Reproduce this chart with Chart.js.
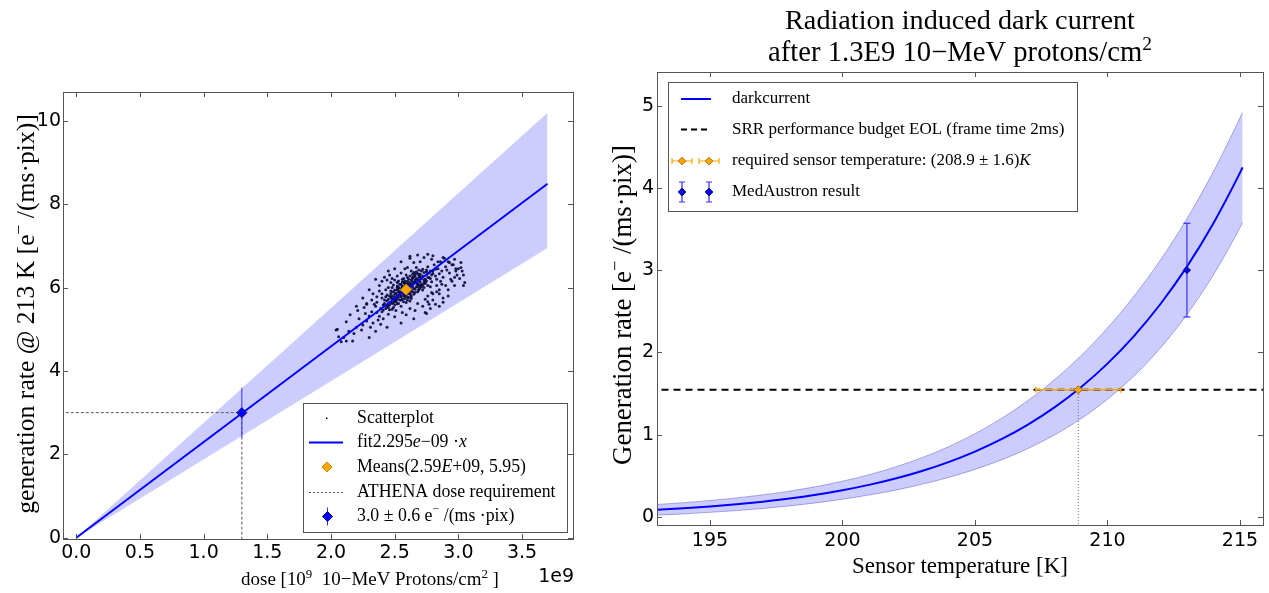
<!DOCTYPE html>
<html><head><meta charset="utf-8">
<script src="https://cdn.jsdelivr.net/npm/chart.js@4/dist/chart.umd.min.js"></script>
<style>
html,body{margin:0;padding:0;background:#fff;width:1269px;height:593px;overflow:hidden}
#cl{position:absolute;left:0;top:0}
#cr{position:absolute;left:600px;top:0}
</style></head><body>
<canvas id="cl" width="600" height="593"></canvas>
<canvas id="cr" width="669" height="593"></canvas>
<script>
// ---------- LEFT PLOT DATA (dose in 1e9 protons/cm2) ----------
const fitDose = [0, 3.7];
const fitRate = [0, 8.49];
const bandUpperRate = [0, 10.19];
const bandLowerRate = [0, 6.95];
const scatterDose = [2.59,2.62,2.55,2.68,2.50,2.47,2.71,2.64,2.58,2.53,2.66,2.44,2.75,2.61,2.57,2.69,2.49,2.52,2.73,2.60,2.56,2.63,2.45,2.78,2.67,2.54,2.70,2.48,2.80,2.59,2.42,2.65,2.51,2.76,2.62,2.58,2.46,2.72,2.55,2.68,2.40,2.82,2.60,2.64,2.52,2.74,2.57,2.66,2.49,2.77,2.43,2.61,2.70,2.53,2.84,2.58,2.45,2.69,2.63,2.56,2.38,2.79,2.50,2.67,2.60,2.73,2.47,2.55,2.85,2.62,2.41,2.71,2.54,2.65,2.48,2.76,2.59,2.68,2.51,2.81,2.44,2.63,2.57,2.72,2.36,2.87,2.53,2.66,2.49,2.78,2.46,2.60,2.70,2.55,2.83,2.39,2.64,2.52,2.75,2.58,
2.30,2.33,2.35,2.28,2.32,2.25,2.37,2.34,2.27,2.31,2.90,2.92,2.88,2.95,2.89,2.93,2.86,2.91,2.97,2.94,2.40,2.45,2.50,2.55,2.60,2.65,2.70,2.43,2.58,2.52,2.50,2.56,2.62,2.68,2.74,2.80,2.85,2.66,2.77,2.59,2.22,2.24,2.20,2.26,2.18,2.98,3.00,2.96,3.02,2.99,2.36,2.41,2.84,2.79,2.76,2.73,2.47,2.39,2.87,2.83,
2.05,2.10,2.12,2.08,2.15,2.12,2.14,2.17,2.06,2.04,3.04,3.02,3.05,3.04,2.93,2.98,3.03,2.88,2.80,2.76,2.62,2.68,2.55,2.50,2.46,2.62,2.44,2.55,2.65,2.75,2.85,2.92,2.35,2.30,2.28,2.21,2.88,2.97,3.01,2.40,
2.25,2.30,2.33,2.38,2.28,2.35,2.42,2.45,2.20,2.32,2.85,2.90,2.88,2.82,2.95,2.78,2.74,2.92,2.97,2.80,2.38,2.44,2.48,2.36,2.40,2.86,2.83,2.79,2.76,2.72,
2.58,2.61,2.54,2.66,2.51,2.69,2.48,2.73,2.56,2.63,2.60,2.57,2.65,2.52,2.70,2.45,2.75,2.59,2.62,2.55,2.67,2.50,2.72,2.47,2.64,2.53,2.68,2.44,2.77,2.61,2.56,2.66,2.49,2.71,2.58,2.63,2.42,2.79,2.54,2.69,2.60,2.52,2.74,2.46,2.65,2.57,2.70,2.50,2.62,2.55,2.68,2.48,2.76,2.59,2.64,2.53,2.71,2.43,2.80,2.58,2.61,2.56,2.67,2.51,2.73,2.47,2.63,2.54,2.69,2.60,2.57,2.66,2.49,2.74,2.52,2.62,2.45,2.78,2.59,2.65,2.55,2.70,2.50,2.64,2.58,2.41,2.82,2.53,2.68,2.61,2.56,2.72,2.48,2.63,2.60,2.66,2.52,2.75,2.57,2.69];
const scatterRate = [5.95,6.05,5.82,6.18,5.78,5.65,6.08,6.22,5.74,6.01,5.96,5.55,6.31,5.88,6.12,6.25,5.90,5.61,6.12,6.15,5.93,5.79,5.72,6.22,6.38,5.70,5.99,5.48,6.40,6.30,5.62,6.10,5.87,6.05,5.68,6.04,5.80,6.44,5.55,5.90,5.42,6.28,5.85,6.32,5.95,6.20,5.66,6.14,5.74,6.35,5.50,6.00,6.32,5.77,6.45,5.86,5.36,6.06,5.95,6.20,5.31,6.14,5.58,6.48,5.77,6.00,5.86,6.08,6.33,6.12,5.58,6.22,5.88,5.84,5.62,6.50,5.64,6.02,5.45,6.55,5.68,6.40,5.96,5.94,5.40,6.40,6.16,6.28,5.52,6.02,5.47,6.24,6.14,5.70,6.20,5.50,6.02,5.72,6.42,5.80,
5.32,5.15,5.55,5.20,5.42,5.10,5.22,5.60,5.38,5.05,6.50,6.62,6.25,6.55,6.70,6.35,6.62,6.42,6.68,6.20,5.85,6.00,6.18,6.35,6.48,6.60,6.62,5.95,6.45,6.28,5.30,5.40,5.50,5.62,5.72,5.85,5.95,5.45,5.60,5.35,5.25,4.98,5.05,5.52,4.90,6.45,6.45,6.55,6.60,6.30,5.78,5.25,6.62,6.68,5.80,6.72,6.12,5.12,6.08,6.05,
5.00,4.80,5.18,4.70,5.35,4.72,4.95,4.72,4.82,4.98,6.30,6.48,6.12,6.05,6.60,6.40,6.40,6.72,6.76,6.80,6.75,6.78,6.62,6.45,6.30,6.70,5.05,5.15,5.25,5.38,5.55,5.80,4.95,4.80,5.62,5.45,5.75,6.05,6.22,6.15,
5.75,5.95,5.85,6.05,5.60,6.20,6.25,6.40,5.55,5.70,5.85,6.05,5.65,5.60,6.15,5.50,5.40,5.95,6.25,5.70,5.92,6.18,6.22,5.65,5.75,6.15,5.90,5.88,5.66,5.55,
5.88,6.08,5.90,6.12,5.66,6.30,5.72,6.18,6.02,5.92,6.10,5.80,6.26,5.82,6.05,5.60,6.38,6.06,5.84,5.98,6.02,5.94,6.28,5.76,6.14,5.62,6.34,5.82,6.24,6.20,5.72,5.88,6.06,6.40,6.16,5.74,5.70,6.30,6.08,5.96,5.92,6.12,6.10,5.58,6.36,6.22,6.20,5.68,6.28,5.86,6.10,6.00,6.24,5.82,5.90,5.98,6.02,5.78,6.34,6.12,5.76,6.04,6.22,5.70,6.36,5.92,6.08,5.84,5.94,6.02,5.90,6.18,5.64,6.14,6.04,5.86,5.52,6.40,5.96,5.98,5.78,6.26,5.84,6.24,6.10,5.46,6.44,5.90,6.08,5.94,6.14,6.06,5.80,6.18,5.70,6.32,6.00,6.16,5.86,6.42];
const meansDose = 2.59, meansRate = 5.95;
const athenaDose = 1.3, athenaRate = 3.0, athenaErr = 0.6;
const leftXTicks = [0, 0.5, 1.0, 1.5, 2.0, 2.5, 3.0, 3.5];
const leftYTicks = [0, 2, 4, 6, 8, 10];

// ---------- RIGHT PLOT DATA ----------
const temps       = [193,194,195,196,197,198,199,200,201,202,203,204,205,206,207,208,209,210,211,212,213,214,215,215.1];
const darkcurrent = [0.085,0.103,0.126,0.152,0.184,0.222,0.268,0.323,0.388,0.465,0.557,0.665,0.793,0.944,1.122,1.331,1.576,1.863,2.198,2.588,3.043,3.571,4.183,4.25];
const dcUpper     = [0.150,0.171,0.198,0.229,0.267,0.312,0.367,0.433,0.512,0.606,0.719,0.852,1.010,1.196,1.414,1.667,1.960,2.297,2.683,3.123,3.626,4.199,4.851,4.92];
const dcLower     = [0.020,0.035,0.054,0.075,0.101,0.132,0.169,0.213,0.264,0.324,0.395,0.478,0.576,0.692,0.830,0.995,1.192,1.429,1.713,2.053,2.460,2.943,3.515,3.58];
const budgetRate = 1.545;
const reqTemp = 208.9, reqTempErr = 1.6;
const medTemp = 213, medRate = 3.0, medErr = 0.57;
const rightXTicks = [195, 200, 205, 210, 215];
const rightYTicks = [0, 1, 2, 3, 4, 5];

// ---------- helpers ----------
const SERIF = '"Liberation Serif", "DejaVu Serif", serif';
function segFont(s, size){ return (s==='i'?'italic ':'') + (s==='s'? size*0.68 : size) + 'px ' + SERIF; }
function richWidth(ctx, segs, size){ let w=0; for(const [t,s] of segs){ ctx.font=segFont(s,size); w+=ctx.measureText(t).width; } return w; }
function fitSize(ctx, segs, target){ return 100*target/richWidth(ctx, segs, 100); }
function drawRich(ctx, segs, x, y, size, align){
  const w = richWidth(ctx, segs, size);
  let cx = align==='center' ? x-w/2 : (align==='right' ? x-w : x);
  for(const [t,s] of segs){
    ctx.font = segFont(s,size);
    ctx.fillText(t, cx, s==='s' ? y-size*0.38 : y);
    cx += ctx.measureText(t).width;
  }
}
function P(xs, ys){ return xs.map((v,i)=>({x:v, y:ys[i]})); }

function axis(min, max, ticksArr, fmt, fit, pad){
  return {type:'linear', min, max,
    grid:{display:false, drawTicks:false}, border:{display:false},
    ticks:{autoSkip:false, maxRotation:0, minRotation:0, includeBounds:false, padding:pad,
           color:'#000', font:{family:'DejaVu Sans', size:19}, callback:fmt},
    afterBuildTicks:s=>{ s.ticks = ticksArr.map(v=>({value:v})); },
    afterFit:fit};
}

const framePlugin = {id:'frame', afterDatasetsDraw(chart){
  const {ctx, chartArea:a, scales:{x,y}} = chart;
  ctx.save(); ctx.strokeStyle='#555'; ctx.lineWidth=1;
  ctx.beginPath();
  x.ticks.forEach(t=>{ const p=Math.round(x.getPixelForValue(t.value))+0.5;
    ctx.moveTo(p,a.bottom); ctx.lineTo(p,a.bottom-5); ctx.moveTo(p,a.top); ctx.lineTo(p,a.top+5); });
  y.ticks.forEach(t=>{ const p=Math.round(y.getPixelForValue(t.value))+0.5;
    ctx.moveTo(a.left,p); ctx.lineTo(a.left+5,p); ctx.moveTo(a.right,p); ctx.lineTo(a.right-5,p); });
  ctx.stroke();
  ctx.strokeRect(Math.round(a.left)+0.5, Math.round(a.top)+0.5, Math.round(a.right-a.left), Math.round(a.bottom-a.top));
  ctx.restore();
}};

function diamond(ctx, x, y, r, fill, stroke){
  ctx.beginPath(); ctx.moveTo(x,y-r); ctx.lineTo(x+r,y); ctx.lineTo(x,y+r); ctx.lineTo(x-r,y); ctx.closePath();
  ctx.fillStyle=fill; ctx.fill(); ctx.strokeStyle=stroke; ctx.lineWidth=1; ctx.stroke();
}

const baseOpts = {responsive:false, animation:false, events:[],
  plugins:{legend:{display:false}, tooltip:{enabled:false}}};

// ---------- LEFT CHART ----------
const leftText = {id:'leftText', afterDraw(chart){
  const ctx = chart.ctx; ctx.save(); ctx.fillStyle='#000'; ctx.textBaseline='alphabetic';
  const ySegs=[['generation rate @ 213 K [e',''],['−','s'],[' /(ms·pix)]','']];
  let sz = fitSize(ctx, ySegs, 400);
  ctx.save(); ctx.translate(34, 314); ctx.rotate(-Math.PI/2); drawRich(ctx, ySegs, 0, 0, sz, 'center'); ctx.restore();
  const xSegs=[['dose [10',''],['9','s'],['  10−MeV Protons/cm',''],['2','s'],[' ]','']];
  sz = fitSize(ctx, xSegs, 258);
  drawRich(ctx, xSegs, 370, 585, sz, 'center');
  ctx.font='19px "DejaVu Sans"'; ctx.textAlign='right'; ctx.fillText('1e9', 574, 582); ctx.textAlign='left';
  // legend
  const L={x:303.5,y:403.5,w:264,h:129};
  ctx.fillStyle='#fff'; ctx.fillRect(L.x,L.y,L.w,L.h);
  ctx.strokeStyle='#555'; ctx.lineWidth=1; ctx.strokeRect(L.x,L.y,L.w,L.h);
  const ys=[418,442.5,467,492,516.5], tx=357, fs=17.8;
  ctx.fillStyle='#0a0a3c'; ctx.fillRect(326,ys[0]-0.5,1.5,1.5);
  ctx.strokeStyle='#0000ff'; ctx.lineWidth=2; ctx.beginPath(); ctx.moveTo(309,ys[1]); ctx.lineTo(343,ys[1]); ctx.stroke();
  diamond(ctx,327,ys[2],5,'#ffa500','#d08a00');
  ctx.strokeStyle='#555'; ctx.lineWidth=1; ctx.setLineDash([2,2]); ctx.beginPath(); ctx.moveTo(309,ys[3]+0.5); ctx.lineTo(343,ys[3]+0.5); ctx.stroke(); ctx.setLineDash([]);
  ctx.strokeStyle='#3030ff'; ctx.beginPath(); ctx.moveTo(327.5,ys[4]-9); ctx.lineTo(327.5,ys[4]+9); ctx.stroke();
  diamond(ctx,327.5,ys[4],5,'#0000ff','#000080');
  ctx.fillStyle='#000'; ctx.textBaseline='middle';
  drawRich(ctx,[['Scatterplot','']],tx,ys[0],fs,'left');
  drawRich(ctx,[['fit2.295',''],['e','i'],['−09 ·',''],['x','i']],tx,ys[1],fs,'left');
  drawRich(ctx,[['Means(2.59',''],['E','i'],['+09, 5.95)','']],tx,ys[2],fs,'left');
  drawRich(ctx,[['ATHENA dose requirement','']],tx,ys[3],fs,'left');
  drawRich(ctx,[['3.0 ± 0.6 e',''],['−','s'],[' /(ms ·pix)','']],tx,ys[4],fs,'left');
  ctx.restore();
}};

new Chart(document.getElementById('cl'), {
  type:'scatter',
  data:{datasets:[
    {data:P(fitDose,bandLowerRate), showLine:true, pointRadius:0, borderWidth:0, order:20},
    {data:P(fitDose,bandUpperRate), showLine:true, pointRadius:0, borderWidth:0, fill:'-1', backgroundColor:'rgba(0,0,255,0.2)', order:19},
    {data:P(scatterDose,scatterRate), pointRadius:1.5, pointBorderWidth:0, backgroundColor:'rgba(8,8,60,0.9)', order:15},
    {data:P(fitDose,fitRate), showLine:true, pointRadius:0, borderColor:'#0000ff', borderWidth:2, order:10},
    {data:[{x:-0.2,y:athenaRate},{x:athenaDose,y:athenaRate},{x:athenaDose,y:-1}], showLine:true, pointRadius:0, borderColor:'#555', borderWidth:1, borderDash:[3,2], order:9},
    {data:[{x:athenaDose,y:athenaRate-athenaErr},{x:athenaDose,y:athenaRate+athenaErr}], showLine:true, pointRadius:0, borderColor:'#3030ff', borderWidth:1, order:8},
    {data:[{x:athenaDose,y:athenaRate}], pointStyle:'rectRot', pointRadius:5, backgroundColor:'#0000ff', borderColor:'#000080', borderWidth:1, order:2},
    {data:[{x:meansDose,y:meansRate}], pointStyle:'rectRot', pointRadius:5.5, backgroundColor:'#ffa500', borderColor:'#d08a00', borderWidth:1, order:1}
  ]},
  options:Object.assign({}, baseOpts, {
    layout:{padding:{left:0, top:92, right:27, bottom:0}},
    scales:{
      x: axis(-0.104, 3.90, leftXTicks, v=>v.toFixed(1), s=>{s.height=54;}, 3),
      y: axis(-0.03, 10.69, leftYTicks, v=>String(v), s=>{s.width=63;}, 2)
    }
  }),
  plugins:[framePlugin, leftText]
});

// ---------- RIGHT CHART ----------
const rightText = {id:'rightText', afterDraw(chart){
  const ctx = chart.ctx; ctx.save(); ctx.fillStyle='#000'; ctx.textBaseline='alphabetic';
  const t1=[['Radiation induced dark current','']];
  drawRich(ctx, t1, 360, 29, fitSize(ctx,t1,350), 'center');
  const t2=[['after 1.3E9 10−MeV protons/cm',''],['2','s']];
  drawRich(ctx, t2, 360, 61, fitSize(ctx,t2,384), 'center');
  const xs=[['Sensor temperature [K]','']];
  drawRich(ctx, xs, 360, 573, fitSize(ctx,xs,216), 'center');
  const ys=[['Generation rate [e',''],['−','s'],[' /(ms·pix)]','']];
  const sz = fitSize(ctx, ys, 320);
  ctx.save(); ctx.translate(31, 305); ctx.rotate(-Math.PI/2); drawRich(ctx, ys, 0, 0, sz, 'center'); ctx.restore();
  const L={x:68.5,y:82.5,w:409,h:129};
  ctx.fillStyle='#fff'; ctx.fillRect(L.x,L.y,L.w,L.h);
  ctx.strokeStyle='#555'; ctx.lineWidth=1; ctx.strokeRect(L.x,L.y,L.w,L.h);
  const ly=[99,129.5,161,192], tx=132, fs=17;
  ctx.strokeStyle='#0000ff'; ctx.lineWidth=2; ctx.beginPath(); ctx.moveTo(81,ly[0]); ctx.lineTo(111,ly[0]); ctx.stroke();
  ctx.strokeStyle='#000'; ctx.setLineDash([6,4]); ctx.beginPath(); ctx.moveTo(81,ly[1]); ctx.lineTo(111,ly[1]); ctx.stroke(); ctx.setLineDash([]);
  [82,109].forEach(cx=>{
    ctx.strokeStyle='#ffa500'; ctx.lineWidth=1.2; ctx.beginPath();
    ctx.moveTo(cx-10,ly[2]); ctx.lineTo(cx+10,ly[2]); ctx.moveTo(cx-10,ly[2]-3); ctx.lineTo(cx-10,ly[2]+3); ctx.moveTo(cx+10,ly[2]-3); ctx.lineTo(cx+10,ly[2]+3); ctx.stroke();
    diamond(ctx,cx,ly[2],3.8,'#ffa500','#b07000');
    ctx.strokeStyle='#3030ff'; ctx.lineWidth=1.2; ctx.beginPath();
    ctx.moveTo(cx,ly[3]-10); ctx.lineTo(cx,ly[3]+10); ctx.moveTo(cx-3,ly[3]-10); ctx.lineTo(cx+3,ly[3]-10); ctx.moveTo(cx-3,ly[3]+10); ctx.lineTo(cx+3,ly[3]+10); ctx.stroke();
    diamond(ctx,cx,ly[3],3.8,'#0000ff','#000060');
  });
  ctx.fillStyle='#000'; ctx.textBaseline='middle';
  drawRich(ctx,[['darkcurrent','']],tx,ly[0],fs,'left');
  drawRich(ctx,[['SRR performance budget EOL (frame time 2ms)','']],tx,ly[1],fs,'left');
  drawRich(ctx,[['required sensor temperature: (208.9 ± 1.6)',''],['K','i']],tx,ly[2],fs,'left');
  drawRich(ctx,[['MedAustron result','']],tx,ly[3],fs,'left');
  ctx.restore();
}};

new Chart(document.getElementById('cr'), {
  type:'scatter',
  data:{datasets:[
    {data:P(temps,dcLower), showLine:true, pointRadius:0, borderColor:'rgba(0,0,150,0.3)', borderWidth:1, cubicInterpolationMode:'monotone', order:20},
    {data:P(temps,dcUpper), showLine:true, pointRadius:0, borderColor:'rgba(0,0,150,0.3)', borderWidth:1, cubicInterpolationMode:'monotone', fill:'-1', backgroundColor:'rgba(0,0,255,0.2)', order:19},
    {data:P(temps,darkcurrent), showLine:true, pointRadius:0, borderColor:'#0000ff', borderWidth:2, cubicInterpolationMode:'monotone', order:10},
    {data:[{x:190,y:budgetRate},{x:220,y:budgetRate}], showLine:true, pointRadius:0, borderColor:'#000', borderWidth:2, borderDash:[7,5], order:9},
    {data:[{x:reqTemp,y:-1},{x:reqTemp,y:budgetRate}], showLine:true, pointRadius:0, borderColor:'#777', borderWidth:1, borderDash:[1,2], order:8},
    {data:[{x:reqTemp-reqTempErr,y:budgetRate},{x:reqTemp+reqTempErr,y:budgetRate}], showLine:true, borderColor:'#ffa500', borderWidth:1.5, pointStyle:'line', pointRadius:3, pointRotation:90, pointBorderColor:'#ffa500', pointBorderWidth:1.5, order:7},
    {data:[{x:medTemp,y:medRate-medErr},{x:medTemp,y:medRate+medErr}], showLine:true, borderColor:'#3030ff', borderWidth:1.2, pointStyle:'line', pointRadius:3.5, pointBorderColor:'#3030ff', pointBorderWidth:1.2, order:6},
    {data:[{x:reqTemp,y:budgetRate}], pointStyle:'rectRot', pointRadius:4, backgroundColor:'#ffa500', borderColor:'#b07000', borderWidth:1, order:2},
    {data:[{x:medTemp,y:medRate}], pointStyle:'rectRot', pointRadius:3.5, backgroundColor:'#0000ff', borderColor:'#000060', borderWidth:1, order:1}
  ]},
  options:Object.assign({}, baseOpts, {
    layout:{padding:{left:0, top:72, right:6, bottom:0}},
    scales:{
      x: axis(193, 215.87, rightXTicks, v=>String(v), s=>{s.height=68;}, 5),
      y: axis(-0.10, 5.41, rightYTicks, v=>String(v), s=>{s.width=57;}, 3)
    }
  }),
  plugins:[framePlugin, rightText]
});
</script>
</body></html>
